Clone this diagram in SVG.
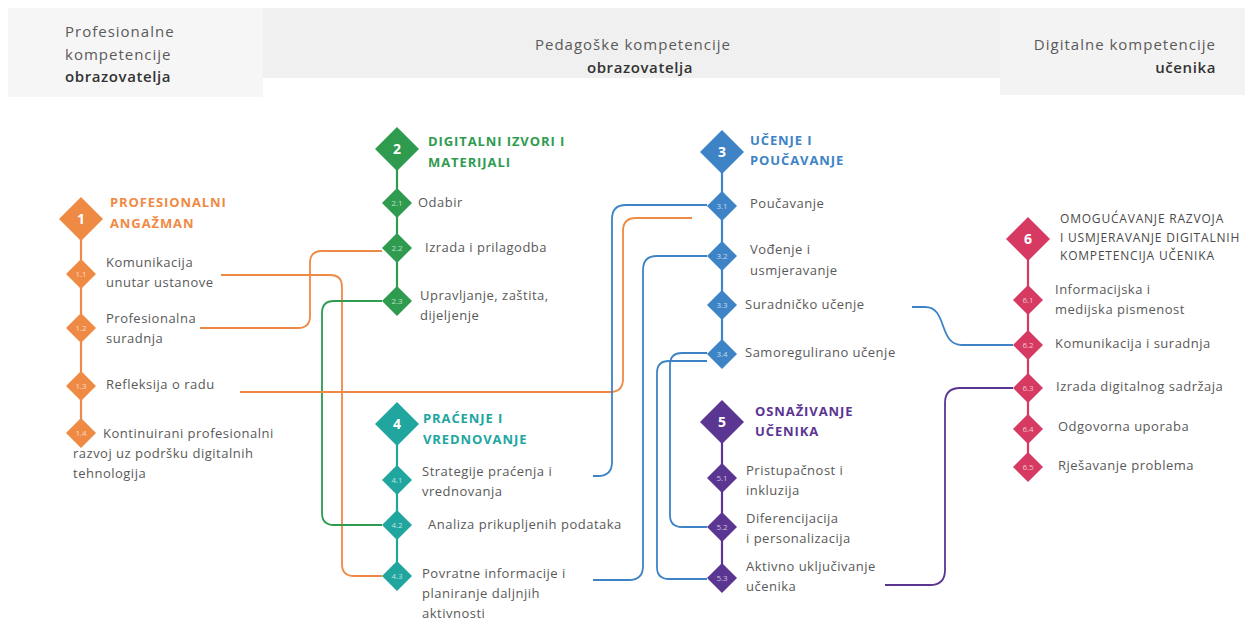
<svg xmlns="http://www.w3.org/2000/svg" width="1251" height="624" viewBox="0 0 1251 624">
<style>
text{font-family:"Open Sans","Noto Sans","Liberation Sans",sans-serif}
.hd{font-size:15px;fill:#5a5a5a;letter-spacing:1px}
.hb{font-size:15px;fill:#333;font-weight:600;letter-spacing:0.6px}
.t{font-size:13px;fill:#595959;letter-spacing:0.5px}
.ti{font-size:13px;font-weight:700;letter-spacing:0.9px}
.t6{font-size:12px;fill:#4a4a4a;letter-spacing:0.8px}
.n{font-size:14px;font-weight:700;fill:#fff;text-anchor:middle}
.s{font-size:8px;fill:#fff;fill-opacity:.7;text-anchor:middle}
.c{fill:none;stroke-width:1.8}
.sp{fill:none;stroke-width:2.2}
.or{stroke:#ef8a45}.gr{stroke:#2f9b4f}.te{stroke:#20a69f}.bl{stroke:#3d83c6}.pu{stroke:#5b3592}.cr{stroke:#d63a62}
.fo{fill:#ef8a45}.fg{fill:#2f9b4f}.ft{fill:#20a69f}.fb{fill:#3d83c6}.fp{fill:#5b3592}.fc{fill:#d63a62}
</style>
<defs>
<path id="D" d="M0 -22 L22 0 L0 22 L-22 0 Z"/>
<path id="d" d="M0 -15 L15 0 L0 15 L-15 0 Z"/>
</defs>
<rect width="1251" height="624" fill="#fff"/>
<g id="headers">
<rect x="8" y="8" width="255" height="89" fill="#f6f6f6"/>
<rect x="263" y="8" width="737" height="70" fill="#f0f0f0"/>
<rect x="1000" y="8" width="245" height="87" fill="#f3f3f3"/>
<text class="hd" x="65" y="37">Profesionalne</text>
<text class="hd" x="65" y="60">kompetencije</text>
<text class="hb" x="65" y="82">obrazovatelja</text>
<text class="hd" x="633" y="50" text-anchor="middle">Pedagoške kompetencije</text>
<text class="hb" x="640" y="73" text-anchor="middle">obrazovatelja</text>
<text class="hd" x="1216" y="50" text-anchor="end">Digitalne kompetencije</text>
<text class="hb" x="1216" y="73" text-anchor="end">učenika</text>
</g>
<g id="connectors">
<g id="spines">
<path class="sp or" d="M81 219 V433"/>
<path class="sp gr" d="M397 149 V300"/>
<path class="sp te" d="M397 424 V576"/>
<path class="sp bl" d="M722 152 V353"/>
<path class="sp pu" d="M722 422 V578"/>
<path class="sp cr" d="M1028 239 V467"/>
</g>
<path class="c or" d="M200 328 H298 Q310 328 310 316 V263 Q310 251 322 251 H382"/>
<path class="c or" d="M221 275 H330 Q342 275 342 287 V564 Q342 576 354 576 H382"/>
<path class="c gr" d="M382 301 H334 Q322 301 322 313 V513 Q322 525 334 525 H382"/>
<path class="c or" d="M240 392 H610 Q623 392 623 379 V231 Q623 218 636 218 H692"/>
<path class="c bl" d="M707 205 H626 Q612 205 612 219 V462 Q612 476 598 476 H593"/>
<path class="c bl" d="M707 256 H657 Q643 256 643 270 V566 Q643 580 629 580 H593"/>
<path class="c bl" d="M707 353 H682 Q670 353 670 365 V515 Q670 527 682 527 H707"/>
<path class="c bl" d="M707 361 H669 Q657 361 657 373 V567 Q657 579 669 579 H707"/>
<path class="c bl" d="M912 307 H925 C948 307 938 345 962 345 H1013"/>
<path class="c pu" d="M885 585 H930 Q945 585 945 570 V403 Q945 388 960 388 H1013"/>
</g>
<g id="n1">
<use href="#D" x="81" y="219" class="fo"/><text class="n" x="81" y="224">1</text>
<text class="ti" x="110" y="207" fill="#ef8a45">PROFESIONALNI</text>
<text class="ti" x="110" y="228" fill="#ef8a45">ANGAŽMAN</text>
</g>
<g id="n1-1"><use href="#d" x="81" y="274" class="fo"/><text class="s" x="81" y="277">1.1</text>
<text class="t" x="106" y="267">Komunikacija</text><text class="t" x="106" y="287">unutar ustanove</text></g>
<g id="n1-2"><use href="#d" x="81" y="328" class="fo"/><text class="s" x="81" y="331">1.2</text>
<text class="t" x="106" y="323">Profesionalna</text><text class="t" x="106" y="343">suradnja</text></g>
<g id="n1-3"><use href="#d" x="81" y="386" class="fo"/><text class="s" x="81" y="389">1.3</text>
<text class="t" x="106" y="389">Refleksija o radu</text></g>
<g id="n1-4"><use href="#d" x="81" y="433" class="fo"/><text class="s" x="81" y="436">1.4</text>
<text class="t" x="103" y="438">Kontinuirani profesionalni</text><text class="t" x="73" y="458">razvoj uz podršku digitalnih</text><text class="t" x="73" y="478">tehnologija</text></g>

<g id="n2">
<use href="#D" x="397" y="149" class="fg"/><text class="n" x="397" y="154">2</text>
<text class="ti" x="428" y="146" fill="#2f9b4f">DIGITALNI IZVORI I</text>
<text class="ti" x="428" y="167" fill="#2f9b4f">MATERIJALI</text>
</g>
<g id="n2-1"><use href="#d" x="397" y="203" class="fg"/><text class="s" x="397" y="206">2.1</text>
<text class="t" x="418" y="207">Odabir</text></g>
<g id="n2-2"><use href="#d" x="397" y="248" class="fg"/><text class="s" x="397" y="251">2.2</text>
<text class="t" x="425" y="252">Izrada i prilagodba</text></g>
<g id="n2-3"><use href="#d" x="397" y="301" class="fg"/><text class="s" x="397" y="304">2.3</text>
<text class="t" x="420" y="300">Upravljanje, zaštita,</text><text class="t" x="420" y="320">dijeljenje</text></g>

<g id="n4">
<use href="#D" x="397" y="424" class="ft"/><text class="n" x="397" y="429">4</text>
<text class="ti" x="423" y="423" fill="#20a69f">PRAĆENJE I</text>
<text class="ti" x="423" y="444" fill="#20a69f">VREDNOVANJE</text>
</g>
<g id="n4-1"><use href="#d" x="397" y="480" class="ft"/><text class="s" x="397" y="483">4.1</text>
<text class="t" x="422" y="476">Strategije praćenja i</text><text class="t" x="422" y="496">vrednovanja</text></g>
<g id="n4-2"><use href="#d" x="397" y="525" class="ft"/><text class="s" x="397" y="528">4.2</text>
<text class="t" x="428" y="529">Analiza prikupljenih podataka</text></g>
<g id="n4-3"><use href="#d" x="397" y="576" class="ft"/><text class="s" x="397" y="579">4.3</text>
<text class="t" x="422" y="578">Povratne informacije i</text><text class="t" x="422" y="598">planiranje daljnjih</text><text class="t" x="422" y="618">aktivnosti</text></g>

<g id="n3">
<use href="#D" x="722" y="152" class="fb"/><text class="n" x="722" y="157">3</text>
<text class="ti" x="750" y="145" fill="#3d83c6">UČENJE I</text>
<text class="ti" x="750" y="165" fill="#3d83c6">POUČAVANJE</text>
</g>
<g id="n3-1"><use href="#d" x="722" y="206" class="fb"/><text class="s" x="722" y="209">3.1</text>
<text class="t" x="750" y="208">Poučavanje</text></g>
<g id="n3-2"><use href="#d" x="722" y="256" class="fb"/><text class="s" x="722" y="259">3.2</text>
<text class="t" x="750" y="254">Vođenje i</text><text class="t" x="750" y="275">usmjeravanje</text></g>
<g id="n3-3"><use href="#d" x="722" y="305" class="fb"/><text class="s" x="722" y="308">3.3</text>
<text class="t" x="745" y="309">Suradničko učenje</text></g>
<g id="n3-4"><use href="#d" x="722" y="354" class="fb"/><text class="s" x="722" y="357">3.4</text>
<text class="t" x="745" y="357">Samoregulirano učenje</text></g>

<g id="n5">
<use href="#D" x="722" y="422" class="fp"/><text class="n" x="722" y="427">5</text>
<text class="ti" x="755" y="416" fill="#5b3592">OSNAŽIVANJE</text>
<text class="ti" x="755" y="436" fill="#5b3592">UČENIKA</text>
</g>
<g id="n5-1"><use href="#d" x="722" y="478" class="fp"/><text class="s" x="722" y="481">5.1</text>
<text class="t" x="746" y="475">Pristupačnost i</text><text class="t" x="746" y="495">inkluzija</text></g>
<g id="n5-2"><use href="#d" x="722" y="527" class="fp"/><text class="s" x="722" y="530">5.2</text>
<text class="t" x="746" y="523">Diferencijacija</text><text class="t" x="746" y="543">i personalizacija</text></g>
<g id="n5-3"><use href="#d" x="722" y="578" class="fp"/><text class="s" x="722" y="581">5.3</text>
<text class="t" x="746" y="571">Aktivno uključivanje</text><text class="t" x="746" y="591">učenika</text></g>

<g id="n6">
<use href="#D" x="1028" y="239" class="fc"/><text class="n" x="1028" y="244">6</text>
<text class="t6" x="1060" y="223">OMOGUĆAVANJE RAZVOJA</text>
<text class="t6" x="1060" y="242">I USMJERAVANJE DIGITALNIH</text>
<text class="t6" x="1060" y="260">KOMPETENCIJA UČENIKA</text>
</g>
<g id="n6-1"><use href="#d" x="1028" y="300" class="fc"/><text class="s" x="1028" y="303">6.1</text>
<text class="t" x="1055" y="294">Informacijska i</text><text class="t" x="1055" y="314">medijska pismenost</text></g>
<g id="n6-2"><use href="#d" x="1028" y="345" class="fc"/><text class="s" x="1028" y="348">6.2</text>
<text class="t" x="1055" y="348">Komunikacija i suradnja</text></g>
<g id="n6-3"><use href="#d" x="1028" y="388" class="fc"/><text class="s" x="1028" y="391">6.3</text>
<text class="t" x="1056" y="391">Izrada digitalnog sadržaja</text></g>
<g id="n6-4"><use href="#d" x="1028" y="429" class="fc"/><text class="s" x="1028" y="432">6.4</text>
<text class="t" x="1058" y="431">Odgovorna uporaba</text></g>
<g id="n6-5"><use href="#d" x="1028" y="467" class="fc"/><text class="s" x="1028" y="470">6.5</text>
<text class="t" x="1058" y="470">Rješavanje problema</text></g>
</svg>
